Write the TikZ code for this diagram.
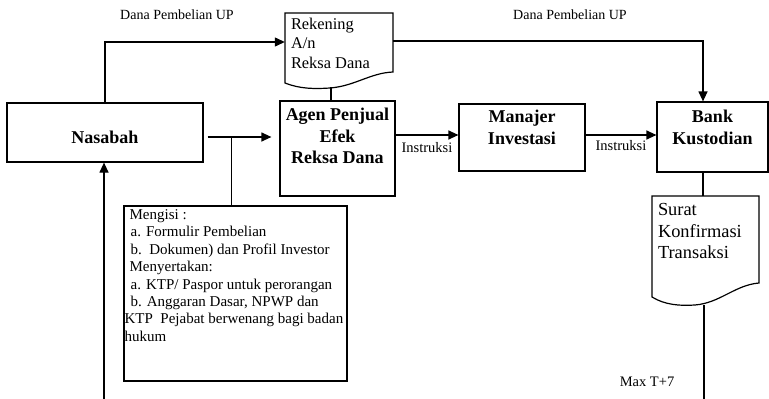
\documentclass[tikz,border=0pt]{standalone}
\usepackage{fontspec}
\setmainfont{Liberation Serif}
\usetikzlibrary{arrows.meta}
\begin{document}
\begin{tikzpicture}[x=1pt,y=-1pt,
  ln/.style={line width=1.2pt},
  arr/.style={ln,-{Triangle[length=10pt,width=9pt]}},
  box/.style={draw,line width=1.2pt,inner sep=0pt},
  ghost/.style={draw=none,inner sep=0pt},
  btxt/.style={font=\bfseries\fontsize{18}{21.5}\selectfont,align=center,inner sep=0pt,anchor=north},
  lbl/.style={font=\fontsize{14}{16}\selectfont,inner sep=0pt},
  ilbl/.style={font=\fontsize{14.5}{16}\selectfont,inner sep=0pt},
]
\useasboundingbox (0,0) rectangle (769,399);

% boxes
\node[box,minimum width=196pt,minimum height=59pt,text height=23pt,
      font=\bfseries\fontsize{18}{21.5}\selectfont] (nas) at (105,132.5) {Nasabah};
\node[box,minimum width=115pt,minimum height=95pt] (agen) at (337.5,148.5) {};
\node[box,minimum width=126pt,minimum height=67pt] (man) at (522,137.5) {};
\node[box,minimum width=111pt,minimum height=70pt] (bank) at (712.5,137) {};
\node[box,minimum width=223pt,minimum height=175pt] (men) at (235.5,293.5) {};

\node[btxt] (agent) at ([yshift=-7.7pt]agen.north) {Agen Penjual\\Efek\\Reksa Dana};
\node[btxt] (mant) at ([yshift=-6.7pt]man.north) {Manajer\\Investasi};
\node[btxt] (bankt) at ([yshift=-8.7pt]bank.north) {Bank\\Kustodian};

% documents
\node[ghost,minimum width=108pt,minimum height=74pt] (rek) at (339,50) {};
\draw[ln] (285,83) -- (285,13) -- (393,13) -- (393,72)
  .. controls (370,73) and (355,86) .. (330,88)
  .. controls (315,89) and (300,89) .. cycle;
\node[anchor=north west,inner sep=0pt,align=left,font=\fontsize{16.4}{19.5}\selectfont]
  (rekt) at ([xshift=6pt,yshift=-5pt]rek.north west) {Rekening\\A/n\\Reksa Dana};

\node[ghost,minimum width=107pt,minimum height=109pt] (sur) at (705.5,250.5) {};
\draw[ln] (652,297) -- (652,196) -- (759,196) -- (759,283)
  .. controls (735,285) and (720,303) .. (695,305)
  .. controls (680,306) and (665,305) .. cycle;
\node[anchor=north west,inner sep=0pt,align=left,font=\fontsize{18.4}{21.5}\selectfont]
  (surt) at ([xshift=6pt,yshift=-7.5pt]sur.north west) {Surat\\Konfirmasi\\Transaksi};

% Mengisi text
\node[anchor=north west,inner sep=0pt,align=left,font=\fontsize{15}{17.4}\selectfont]
  (ment) at ([xshift=1pt,yshift=-4pt]men.north west)
  {\hspace*{5pt}Mengisi :\\
   \hspace*{6pt}a. Formulir Pembelian\\
   \hspace*{6pt}b.\ \ Dokumen) dan Profil Investor\\
   \hspace*{5pt}Menyertakan:\\
   \hspace*{6pt}a. KTP/ Paspor untuk perorangan\\
   \hspace*{6pt}b. Anggaran Dasar, NPWP dan\\
   KTP\ \ Pejabat berwenang bagi badan\\
   hukum};

% labels
\node[lbl] (dp1) at (177,15) {Dana Pembelian UP};
\node[lbl] (dp2) at (570,15) {Dana Pembelian UP};
\node[ilbl] (maxt) at (647,382) {Max T+7};

% connectors
\draw[arr] (nas.north) |- ([yshift=8pt]rek.west);
\draw[arr] ([yshift=9pt]rek.east) -| ([xshift=-9.5pt]bank.north);
\draw[ln] ([xshift=-8pt]rek.south) -- ([xshift=-8pt]rek.south |- agen.north);
\draw[arr,shorten <=4pt,shorten >=8pt] ([yshift=-4.5pt]nas.east) -- ([yshift=-4.5pt]nas.east -| agen.west);
\coordinate (j) at ([xshift=28pt,yshift=-4.5pt]nas.east);
\draw[ln] (j) -- (j |- men.north);
\coordinate (b1) at ([xshift=-1pt]nas.south |- 0,399);
\draw[arr] (b1) -- (b1 |- nas.south);
\draw[arr] ([yshift=2.5pt]man.west -| agen.east) -- node[ilbl,below=7pt] (i1) {Instruksi} ([yshift=2.5pt]man.west);
\draw[arr] ([yshift=2pt]bank.west -| man.east) -- node[ilbl,below=5pt] (i2) {Instruksi} ([yshift=2pt]bank.west);
\draw[ln] ([xshift=-9.5pt]bank.south) -- ([xshift=-9.5pt]bank.south |- sur.north);
\coordinate (b2) at ([xshift=-1.5pt]sur.south |- b1);
\draw[ln] (sur.south -| b2) -- (b2);
\end{tikzpicture}
\end{document}
